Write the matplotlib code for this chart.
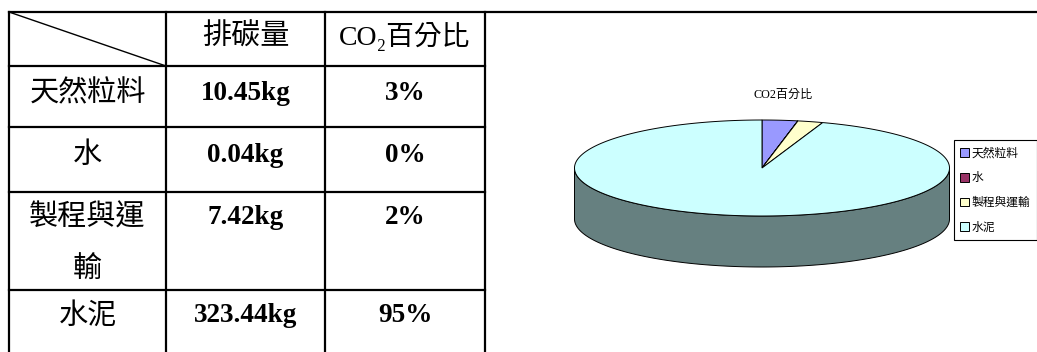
import numpy as np
import matplotlib
matplotlib.use("Agg")
import matplotlib.pyplot as plt
from matplotlib.patches import Polygon, Rectangle

# table content
row_labels = ["天然粒料", "水", "製程與運\n輸", "水泥"]
header = ["排碳量", "CO₂百分比"]
emission_kg = [10.45, 0.04, 7.42, 323.44]
emission_txt = ["10.45kg", "0.04kg", "7.42kg", "323.44kg"]
percent_txt = ["3%", "0%", "2%", "95%"]

# pie content
pie_title = "CO2百分比"
pie_labels = ["天然粒料", "水", "製程與運輸", "水泥"]
pie_colors = ["#9999FF", "#993366", "#FFFFCC", "#CCFFFF"]

CJK = ["Noto Sans CJK TC", "DejaVu Sans"]
SERIF = ["Liberation Serif", "DejaVu Serif", "Noto Sans CJK TC"]

W, H = 1037, 352
COLS = [9, 166, 325, 485]
ROWS = [12, 66, 127, 192, 290, 360]


def main():
    fig = plt.figure(figsize=(W / 100, H / 100), dpi=100)
    ax = fig.add_axes([0, 0, 1, 1])
    ax.set_xlim(0, W)
    ax.set_ylim(H, 0)
    ax.axis("off")

    draw_table(ax)
    draw_pie(ax, fig)

    fig.savefig("out.png", dpi=100)


def draw_table(ax):
    lw = 1.6
    # top border runs across the whole page
    ax.plot([COLS[0], W], [ROWS[0], ROWS[0]], color="black", lw=lw)
    for y in ROWS[1:-1]:
        ax.plot([COLS[0], COLS[-1]], [y, y], color="black", lw=lw)
    for x in COLS:
        ax.plot([x, x], [ROWS[0], ROWS[-1]], color="black", lw=lw)
    # diagonal in the corner cell
    ax.plot([COLS[0], COLS[1]], [ROWS[0], ROWS[1]], color="black", lw=1.0)

    cx = [(COLS[i] + COLS[i + 1]) / 2 for i in range(3)]
    cjk_kw = dict(ha="center", va="center", fontsize=21, family=CJK,
                  weight="light")
    num_kw = dict(ha="center", va="center", fontsize=19.5, family=SERIF,
                  weight="bold")
    ax.text(cx[1], 37, header[0], **cjk_kw)
    ax.text(cx[2], 37, header[1], ha="center", va="center",
            fontsize=20, family=SERIF)

    label_y = [93, 155, 218, 316]
    for i, lab in enumerate(row_labels):
        if "\n" in lab:
            a, b = lab.split("\n")
            ax.text(cx[0], label_y[i], a, **cjk_kw)
            ax.text(cx[0], 270, b, **cjk_kw)
        else:
            ax.text(cx[0], label_y[i], lab, **cjk_kw)
        ax.text(cx[1], label_y[i], emission_txt[i], **num_kw)
        ax.text(cx[2], label_y[i], percent_txt[i], **num_kw)


def ell(cx, cy, a, b, t):
    t = np.radians(t)
    return np.column_stack([cx + a * np.cos(t), cy - b * np.sin(t)])


def draw_pie(ax, fig):
    cx, cy, a, b, depth = 762, 168, 187.5, 48, 51
    vals = np.array(emission_kg)
    frac = vals / vals.sum()
    ends = 90 - np.cumsum(frac) * 360
    starts = np.concatenate([[90], ends[:-1]])

    # side walls, only the front half (180..360) is visible
    for s, e, col in zip(starts, ends, pie_colors):
        ts = np.linspace(e, s, 400) % 360
        ts = ts[(ts >= 180) & (ts <= 360)]
        if len(ts) < 2:
            continue
        ts = np.sort(ts)
        top = ell(cx, cy, a, b, ts)
        bot = top + [0, depth]
        pts = np.vstack([top, bot[::-1]])
        dark = tuple(0.5 * np.array(matplotlib.colors.to_rgb(col)))
        ax.add_patch(Polygon(pts, closed=True, facecolor=dark,
                             edgecolor="black", lw=0.7))

    # top faces
    for s, e, col in zip(starts, ends, pie_colors):
        ts = np.linspace(s, e, max(int(abs(s - e) * 2), 2))
        pts = np.vstack([[cx, cy], ell(cx, cy, a, b, ts)])
        ax.add_patch(Polygon(pts, closed=True, facecolor=col,
                             edgecolor="black", lw=0.7))

    ax.text(783, 95, pie_title, ha="center", va="center", fontsize=8.7,
            family=SERIF)

    handles = [Rectangle((0, 0), 1, 1, facecolor=c, edgecolor="black", lw=0.7)
               for c in pie_colors]
    leg = fig.legend(handles, pie_labels, loc="upper left",
                     bbox_to_anchor=(954 / W, 1 - 140 / H),
                     prop={"family": CJK, "size": 8.5}, frameon=True,
                     fancybox=False, edgecolor="black", handlelength=0.75,
                     handleheight=0.75, handletextpad=0.2, labelspacing=1.0,
                     borderpad=0.55, borderaxespad=0, framealpha=1)
    leg.get_frame().set_linewidth(0.8)


if __name__ == "__main__":
    main()
